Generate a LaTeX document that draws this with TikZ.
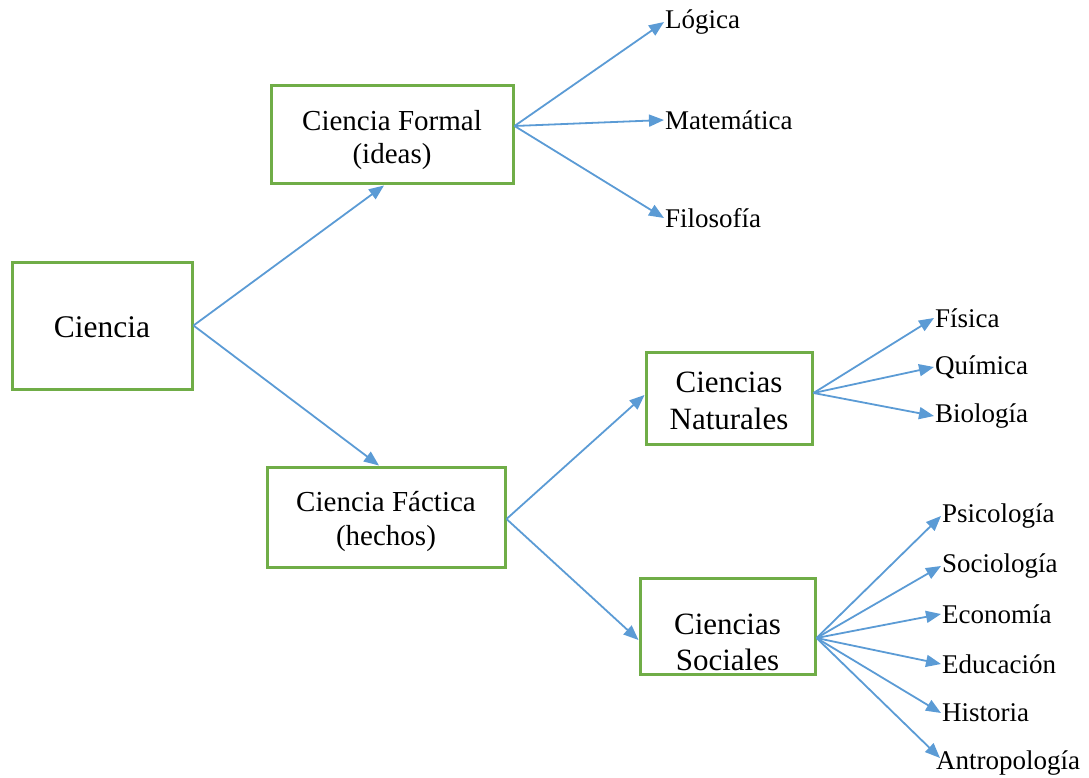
\documentclass[tikz,border=0pt]{standalone}
\usepackage{fontspec}
\setmainfont{Liberation Serif}
\usetikzlibrary{arrows.meta}
\definecolor{boxgreen}{RGB}{112,173,71}
\definecolor{linkblue}{RGB}{91,155,213}
\begin{document}
\begin{tikzpicture}[x=1pt,y=-1pt,
  box/.style={draw=boxgreen,line width=3pt,fill=white,inner sep=0pt},
  boxtext/.style={align=center,inner sep=0pt},
  leaf/.style={anchor=west,inner sep=1pt,font=\fontsize{27}{30}\selectfont},
  link/.style={draw=linkblue,line width=1.8pt,-{Triangle[length=15pt,width=12pt]}}]
\useasboundingbox (0,0) rectangle (1089,778);
% boxes
\node[box,minimum width=180pt,minimum height=127pt] (root) at (102,325.5) {};
\node[box,minimum width=242pt,minimum height=98pt] (formal) at (392,135) {};
\node[box,minimum width=238pt,minimum height=100pt] (factica) at (386,517) {};
\node[box,minimum width=166pt,minimum height=92pt] (nat) at (729,398) {};
\node[box,minimum width=175pt,minimum height=96pt] (soc) at (727.5,626) {};
% box captions
\node[boxtext,font=\fontsize{31.5}{36}\selectfont] (rootT) at ([yshift=-2pt]root.center) {Ciencia};
\node[boxtext,font=\fontsize{29}{33}\selectfont] (formalT) at ([yshift=-5pt]formal.center) {Ciencia Formal\\(ideas)};
\node[boxtext,font=\fontsize{29}{34}\selectfont] (facticaT) at ([yshift=-5pt]factica.center) {Ciencia Fáctica\\(hechos)};
\node[boxtext,font=\fontsize{31}{37}\selectfont] (natT) at ([yshift=-3pt]nat.center) {Ciencias\\Naturales};
\node[boxtext,font=\fontsize{31}{36}\selectfont] (socT) at ([yshift=-16pt]soc.center) {Ciencias\\Sociales};
% leaves
\node[leaf] (log) at (664,22) {Lógica};
\node[leaf] (mat) at (664,120) {Matemática};
\node[leaf] (fil) at (664,218) {Filosofía};
\node[leaf] (fis) at (934,318) {Física};
\node[leaf] (qui) at (934,367) {Química};
\node[leaf] (bio) at (934,416) {Biología};
\node[leaf] (psi) at (941,516) {Psicología};
\node[leaf] (soci) at (941,566) {Sociología};
\node[leaf] (eco) at (941,614) {Economía};
\node[leaf] (edu) at (941,664) {Educación};
\node[leaf] (his) at (941,713) {Historia};
\node[leaf] (ant) at (935,763) {Antropología};
% connection points on the boxes
\coordinate (rootR) at (root.east);
\coordinate (formalR) at ([yshift=9pt]formal.east);
\coordinate (facticaR) at ([yshift=-2pt]factica.east);
\coordinate (natR) at ([yshift=5pt]nat.east);
\coordinate (socR) at ([yshift=-12pt]soc.east);
% links
\draw[link] (rootR) -- ([xshift=-8pt]formal.south);
\draw[link] (rootR) -- ([xshift=-7pt]factica.north);
\draw[link] (formalR) -- (log.west);
\draw[link] (formalR) -- (mat.west);
\draw[link] (formalR) -- (fil.west);
\draw[link] (facticaR) -- ([yshift=3pt]nat.west);
\draw[link] (facticaR) -- ([yshift=-14pt]soc.west);
\draw[link] (natR) -- (fis.west);
\draw[link] (natR) -- (qui.west);
\draw[link] (natR) -- (bio.west);
\draw[link] (socR) -- (psi.west);
\draw[link] (socR) -- (soci.west);
\draw[link] (socR) -- (eco.west);
\draw[link] (socR) -- (edu.west);
\draw[link] (socR) -- (his.west);
\draw[link] (socR) -- ([xshift=5pt,yshift=5pt]ant.west);
\end{tikzpicture}
\end{document}
